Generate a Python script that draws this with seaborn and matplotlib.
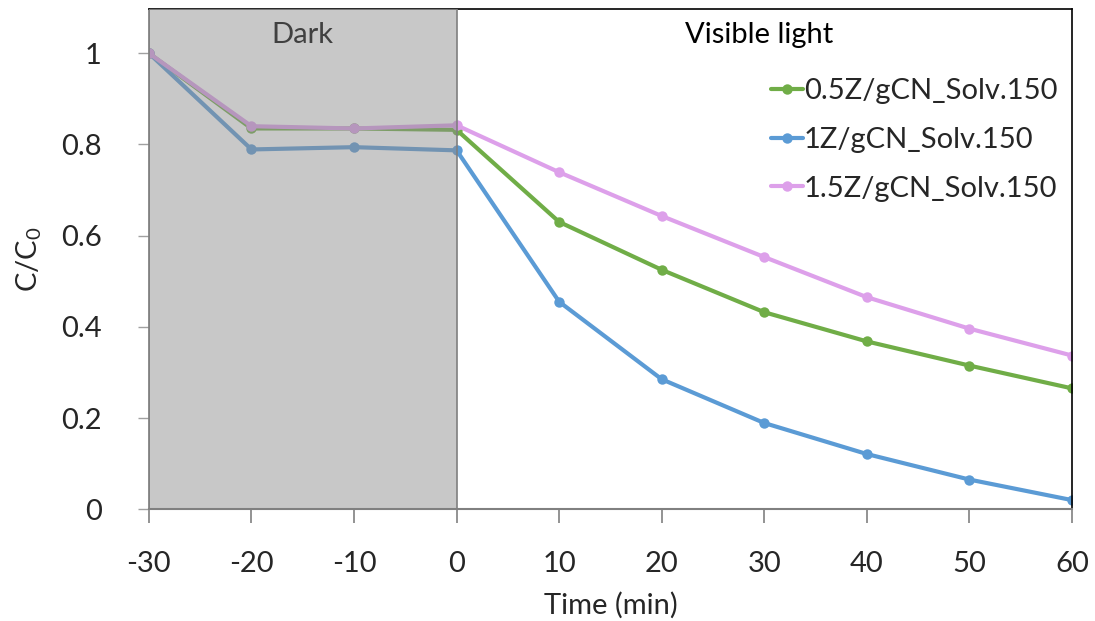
import pandas as pd
import seaborn as sns
import matplotlib.pyplot as plt
from matplotlib.patches import Rectangle

# time points (min)
time = [-30, -20, -10, 0, 10, 20, 30, 40, 50, 60]

# C/C0 for each sample
z05 = [1.0, 0.835, 0.835, 0.832, 0.630, 0.525, 0.432, 0.368, 0.315, 0.265]
z10 = [1.0, 0.789, 0.794, 0.787, 0.455, 0.285, 0.189, 0.121, 0.065, 0.020]
z15 = [1.0, 0.840, 0.835, 0.842, 0.739, 0.643, 0.553, 0.465, 0.396, 0.337]

labels = ["0.5Z/gCN_Solv.150", "1Z/gCN_Solv.150", "1.5Z/gCN_Solv.150"]
colors = ["#70AD47", "#5B9BD5", "#DDA0EA"]

df = pd.concat([
    pd.DataFrame({"time": time, "ratio": vals, "sample": name})
    for name, vals in zip(labels, [z05, z10, z15])
])

sns.set_theme(style="white")
plt.rcParams["font.family"] = ["Lato", "DejaVu Sans"]
plt.rcParams["mathtext.default"] = "regular"
plt.rcParams["axes.unicode_minus"] = False

fs = 21

fig = plt.figure(figsize=(10.95, 6.21), dpi=100)
ax = fig.add_axes([0.136, 0.180, 0.843, 0.8055])

sns.lineplot(data=df, x="time", y="ratio", hue="sample", palette=colors,
             hue_order=labels, marker="o", markersize=7.5, markeredgewidth=0,
             linewidth=3.0, ax=ax, legend=False, zorder=2)

ymax = 1.097
ax.set_xlim(-30, 60)
ax.set_ylim(0, ymax)

# dark period overlay
ax.add_patch(Rectangle((-30, 0), 30, ymax, facecolor=(0.55, 0.55, 0.55, 0.47),
                       edgecolor="#7f7f7f", linewidth=1.2, zorder=3))

ax.set_xticks(range(-30, 61, 10))
ax.set_yticks([0, 0.2, 0.4, 0.6, 0.8, 1.0])
ax.set_yticklabels(["0", "0.2", "0.4", "0.6", "0.8", "1"])
ax.tick_params(axis="x", direction="out", length=10, width=1.2, color="#808080",
               labelsize=fs, pad=20, bottom=True)
ax.tick_params(axis="y", direction="out", length=8, width=1.0, color="#a0a0a0",
               labelsize=fs, pad=26, left=True)

for side in ["top", "right"]:
    ax.spines[side].set_color("black")
    ax.spines[side].set_linewidth(1.2)
ax.spines["left"].set_color("#7f7f7f")
ax.spines["bottom"].set_color("#808080")
ax.spines["bottom"].set_linewidth(1.5)

ax.set_xlabel("Time (min)", fontsize=fs, labelpad=11)
ax.set_ylabel("C/C$_0$", fontsize=fs, labelpad=12)

ax.text(-15, 1.04, "Dark", ha="center", va="center", fontsize=fs,
        color="#404040", zorder=4)
ax.text(29.5, 1.04, "Visible light", ha="center", va="center", fontsize=fs,
        color="black", zorder=4)

handles = ax.get_lines()[:3]
ax.legend(handles, labels, loc="upper right", bbox_to_anchor=(0.997, 0.885),
          frameon=False, fontsize=fs, handlelength=1.1, handletextpad=0.05,
          labelspacing=0.78, borderaxespad=0)

fig.savefig("out.png", dpi=100)
